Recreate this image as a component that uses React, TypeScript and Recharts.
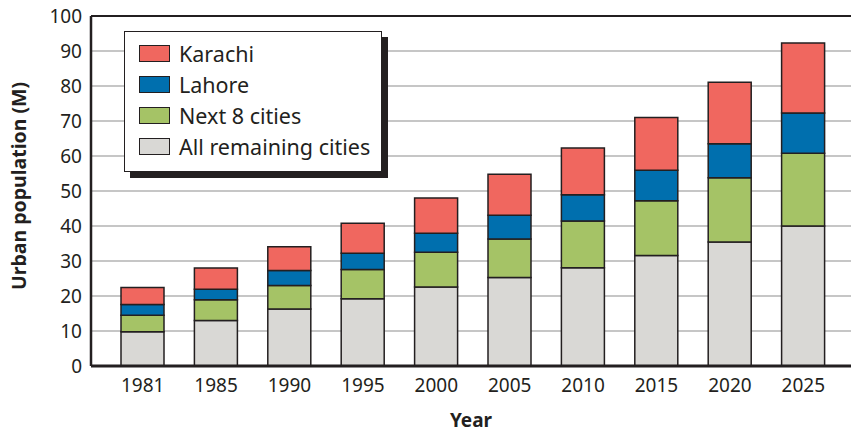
import React from "react";
import {
  BarChart,
  Bar,
  XAxis,
  YAxis,
  CartesianGrid,
  ReferenceLine,
  Label,
} from "recharts";

// values in millions
const years = ["1981", "1985", "1990", "1995", "2000", "2005", "2010", "2015", "2020", "2025"];
const remaining = [9.8, 13.0, 16.3, 19.2, 22.6, 25.3, 28.1, 31.6, 35.4, 40.0];
const next8 = [4.7, 5.9, 6.7, 8.4, 9.9, 11.0, 13.3, 15.6, 18.4, 20.8];
const lahore = [3.1, 3.0, 4.3, 4.6, 5.4, 6.8, 7.5, 8.7, 9.7, 11.5];
const karachi = [4.8, 6.1, 6.8, 8.6, 10.1, 11.7, 13.4, 15.1, 17.6, 20.0];
const yTicks = [0, 10, 20, 30, 40, 50, 60, 70, 80, 90, 100];

const series = [
  { key: "remaining", name: "All remaining cities", color: "#d9d8d5" },
  { key: "next8", name: "Next 8 cities", color: "#a5c366" },
  { key: "lahore", name: "Lahore", color: "#006fae" },
  { key: "karachi", name: "Karachi", color: "#f0675f" },
];

const data = years.map((year, i) => ({
  year,
  remaining: remaining[i],
  next8: next8[i],
  lahore: lahore[i],
  karachi: karachi[i],
}));

const FONT = "'Noto Sans', 'Open Sans', sans-serif";
const INK = "#231f20";

// legend drawn as an overlay so it doesn't shrink the plot area
const LegendBox = () => (
  <div
    style={{
      position: "absolute",
      left: 124,
      top: 31,
      width: 258,
      height: 141,
      boxSizing: "border-box",
      background: "#fff",
      border: `1px solid ${INK}`,
      boxShadow: `6px 6px 0 ${INK}`,
      padding: "6px 0 0 14px",
      fontFamily: FONT,
    }}
  >
    {[...series].reverse().map((s) => (
      <div
        key={s.key}
        style={{ display: "flex", alignItems: "center", height: 31 }}
      >
        <span
          style={{
            display: "inline-block",
            width: 31,
            height: 17,
            boxSizing: "border-box",
            background: s.color,
            border: `1px solid ${INK}`,
            marginRight: 9,
          }}
        />
        <span style={{ fontSize: 21.5, color: INK, lineHeight: "21px" }}>
          {s.name}
        </span>
      </div>
    ))}
  </div>
);

const YTitle = () => (
  <text
    x={18}
    y={186}
    transform="rotate(-90 18 186)"
    textAnchor="middle"
    dominantBaseline="central"
    fontFamily={FONT}
    fontWeight="bold"
    fontSize={19.5}
    fill={INK}
  >
    Urban population (M)
  </text>
);

export default function App() {
  return (
    <div style={{ position: "absolute", left: 0, top: 0, width: 851, height: 433, background: "#fff" }}>
      <BarChart
        width={851}
        height={433}
        data={data}
        margin={{ top: 16, right: 0, left: 0, bottom: 0 }}
        barSize={43}
      >
        <CartesianGrid
          horizontal
          vertical={false}
          stroke="#b3b3b3"
          strokeWidth={1.5}
        />
        <XAxis
          dataKey="year"
          height={67}
          padding={{ left: 15, right: 11 }}
          tickLine={false}
          tickMargin={7}
          axisLine={{ stroke: INK, strokeWidth: 3 }}
          tick={{ fontFamily: FONT, fontSize: 19, fill: INK }}
          interval={0}
        >
          <Label
            value="Year"
            position="insideBottom"
            offset={6}
            style={{ fontFamily: FONT, fontWeight: "bold", fontSize: 19, fill: INK }}
          />
        </XAxis>
        <YAxis
          width={91}
          domain={[0, 100]}
          ticks={yTicks}
          interval={0}
          tickLine={false}
          tickMargin={3}
          axisLine={{ stroke: INK, strokeWidth: 2.5 }}
          tick={{ fontFamily: FONT, fontSize: 19, fill: INK }}
        >
          <Label content={<YTitle />} />
        </YAxis>
        <ReferenceLine y={100} stroke={INK} strokeWidth={2} />
        {series.map((s) => (
          <Bar
            key={s.key}
            dataKey={s.key}
            name={s.name}
            stackId="pop"
            fill={s.color}
            stroke={INK}
            strokeWidth={1.5}
            isAnimationActive={false}
          />
        ))}
      </BarChart>
      <LegendBox />
    </div>
  );
}
